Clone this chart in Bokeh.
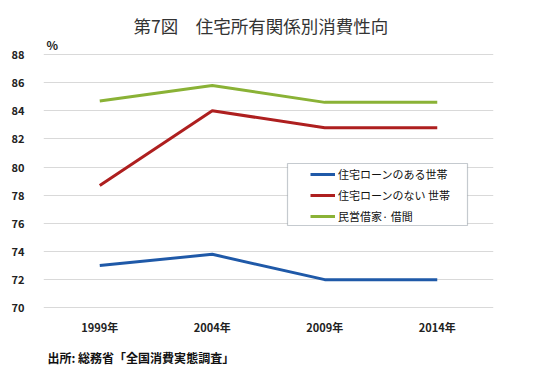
from bokeh.plotting import figure
from bokeh.models import Range1d, Legend, LegendItem, Label, BoxAnnotation, FixedTicker, Title
from bokeh.embed import file_html
from bokeh.resources import INLINE

years = ["1999年", "2004年", "2009年", "2014年"]
loan = [73.0, 73.8, 72.0, 72.0]
no_loan = [78.7, 84.0, 82.8, 82.8]
rent = [84.7, 85.8, 84.6, 84.6]
series_names = ["住宅ローンのある世帯", "住宅ローンのない 世帯", "民営借家· 借間"]
colors = ["#1F59A8", "#AE1F1F", "#8AB236"]
y_ticks = [70, 72, 74, 76, 78, 80, 82, 84, 86, 88]
title_text = "第7図\u3000住宅所有関係別消費性向"
source_text = "出所: 総務省「全国消費実態調査」"

FONT = "Noto Sans CJK JP"

p = figure(frame_width=450, frame_height=308, x_range=years, y_range=Range1d(69.95, 91.84),
           output_backend="svg", toolbar_location=None,
           min_border_left=43, min_border_right=31, min_border_top=0, min_border_bottom=40)
p.outline_line_color = None
p.background_fill_color = "white"

p.xgrid.grid_line_color = None
p.ygrid.grid_line_color = "#D9D9D9"
p.ygrid.grid_line_width = 1
p.yaxis.ticker = FixedTicker(ticks=y_ticks)

for ax in (p.xaxis, p.yaxis):
    ax.axis_line_color = None
    ax.major_tick_line_color = None
    ax.minor_tick_line_color = None
    ax.major_label_text_font = FONT
    ax.major_label_text_font_style = "bold"
    ax.major_label_text_font_size = "11px"
    ax.major_label_text_color = "#222222"
p.yaxis.major_label_standoff = 13
p.xaxis.major_label_standoff = 4

renderers = []
for vals, c in zip([loan, no_loan, rent], colors):
    r = p.line(years, vals, line_color=c, line_width=3)
    renderers.append(r)

box = BoxAnnotation(left=287, right=467, top=163, bottom=225,
                    left_units="canvas", right_units="canvas", top_units="canvas", bottom_units="canvas",
                    fill_color="white", fill_alpha=1, line_color="#3F4F5F", line_width=1.2)
p.add_layout(box)

legend = Legend(items=[LegendItem(label=n, renderers=[r]) for n, r in zip(series_names, renderers)],
                location=(267, 82), padding=1, margin=0, spacing=1,
                label_height=20, glyph_height=20, glyph_width=25, label_standoff=3,
                label_text_font=FONT, label_text_font_size="11px", label_text_color="#111111",
                border_line_color=None, background_fill_alpha=0)
p.add_layout(legend)

p.add_layout(Label(x=0, y=88, x_offset=90, y_offset=29, text=title_text, text_baseline="middle",
                   text_font=FONT, text_font_size="17.5px", text_color="#333333"))
p.add_layout(Label(x=0, y=88, x_offset=3, y_offset=10, text="%", text_baseline="middle",
                   text_font=FONT, text_font_style="bold", text_font_size="12px", text_color="#222222"))

src = Title(text=source_text, align="left", offset=4, standoff=19,
            text_font=FONT, text_font_style="bold", text_font_size="12px", text_color="#111111")
p.add_layout(src, "below")

open("out.html", "w").write(file_html(p, INLINE))
